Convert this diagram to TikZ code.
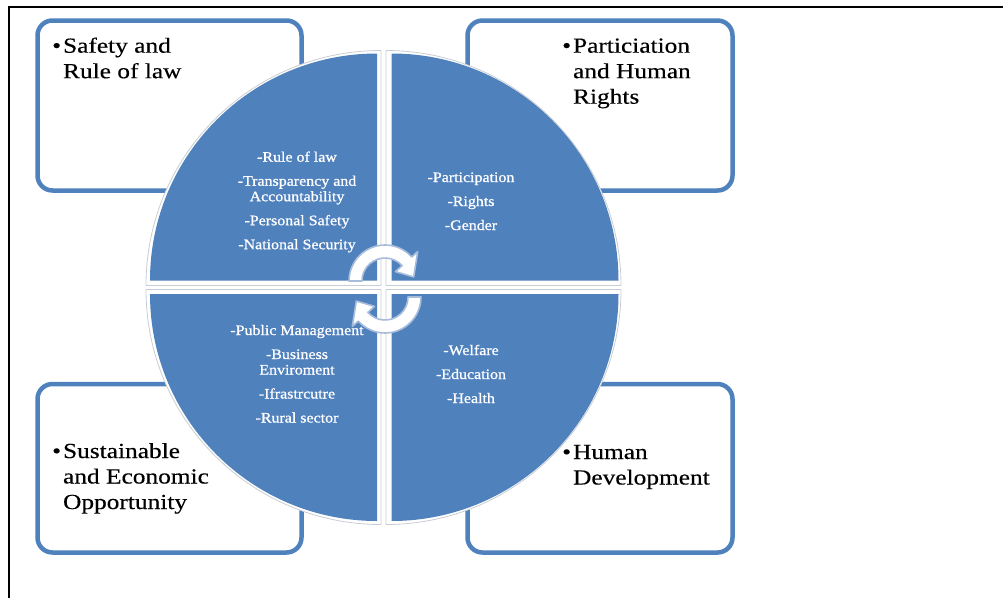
\documentclass[tikz,border=0pt]{standalone}
\usepackage{fontspec}
\setmainfont{Liberation Serif}[FakeStretch=1.18, FakeBold=0.3]
\newfontfamily\itemfont{Liberation Serif}[FakeStretch=1.1, FakeBold=0.9]
\usetikzlibrary{calc}
\definecolor{qblue}{HTML}{4F81BD}
\definecolor{qedge}{HTML}{C8CDD4}
\definecolor{arrowedge}{HTML}{A8BCDC}
\tikzset{
  frameline/.style={line width=2pt, draw=black},
  panel/.style={draw=qblue, line width=4.5pt, rounded corners=15pt, fill=white,
    inner sep=0pt, rectangle},
  headtext/.style={anchor=base west, inner sep=0pt,
    font=\fontsize{21.5}{25.5}\selectfont, text=black},
  itemtext/.style={anchor=base, inner sep=0pt,
    font=\itemfont\fontsize{14.5}{15.5}\selectfont, text=white},
  quarter/.style={fill=qblue},
  quarterrim/.style={fill=white, draw=qedge, line width=0.8pt},
  cyclearrow/.style={fill=white, draw=arrowedge, line width=1.6pt, line join=round}
}
\newcommand{\headlines}[1]{\begin{tabular}[t]{@{}l@{\hspace{2pt}}l@{}}#1\end{tabular}}
\newcommand{\itemlines}[1]{\begin{tabular}[t]{@{}c@{}}#1\end{tabular}}
\begin{document}
\begin{tikzpicture}[x=1pt, y=-1pt]
  \useasboundingbox (0,0) rectangle (1003,598);

  % page frame (top and left rules)
  \coordinate (fr0) at (9,7);
  \coordinate (frR) at (1003,7);
  \coordinate (frB) at (9,598);
  \draw[frameline] (frR) -- (fr0) -- (frB);

  % four corner panels
  \node[panel, minimum width=264pt, minimum height=170pt] (tlbox) at (169.5,105.5) {};
  \node[panel, minimum width=265pt, minimum height=170pt] (trbox) at (600,105.5) {};
  \node[panel, minimum width=264pt, minimum height=168.5pt] (blbox) at (169.5,468.25) {};
  \node[panel, minimum width=265pt, minimum height=168.5pt] (brbox) at (600,468.25) {};

  % panel headings
  \node[headtext] (tlhead) at (52,52.7) {\headlines{\textbullet & Safety and\\ & Rule of law}};
  \node[headtext] (trhead) at (562,52.7) {\headlines{\textbullet & Particiation\\ & and Human\\ & Rights}};
  \node[headtext] (blhead) at (52,458) {\headlines{\textbullet & Sustainable\\ & and Economic\\ & Opportunity}};
  \node[headtext] (brhead) at (562,459) {\headlines{\textbullet & Human\\ & Development}};

  % quarter discs: light rim first, blue quarter on top
  \path[quarterrim] (381,285.5) -- ++(-235,0) arc[start angle=180, end angle=270, radius=235] -- cycle;
  \path[quarterrim] (386,285.5) -- ++(0,-235) arc[start angle=270, end angle=360, radius=235] -- cycle;
  \path[quarterrim] (386,289.5) -- ++(235,0) arc[start angle=0, end angle=90, radius=235] -- cycle;
  \path[quarterrim] (381,289.5) -- ++(0,235) arc[start angle=90, end angle=180, radius=235] -- cycle;

  \path[quarter] (377,280.5) -- ++(-227,0) arc[start angle=180, end angle=270, radius=227] -- cycle;
  \path[quarter] (391.5,280.5) -- ++(0,-227) arc[start angle=270, end angle=360, radius=227] -- cycle;
  \path[quarter] (391.5,294) -- ++(227,0) arc[start angle=0, end angle=90, radius=227] -- cycle;
  \path[quarter] (377,294) -- ++(0,227) arc[start angle=90, end angle=180, radius=227] -- cycle;

  % quarter texts
  \node[itemtext] (tlitems) at (297,161.7) {\itemlines{-Rule of law\\[8.5pt]-Transparency and\\Accountability\\[8.5pt]-Personal Safety\\[8.5pt]-National Security}};
  \node[itemtext] (tritems) at (471,182) {\itemlines{-Participation\\[8.5pt]-Rights\\[8.5pt]-Gender}};
  \node[itemtext] (blitems) at (297,335) {\itemlines{-Public Management\\[8.5pt]-Business\\Enviroment\\[8.5pt]-Ifrastrcutre\\[8.5pt]-Rural sector}};
  \node[itemtext] (britems) at (471,355) {\itemlines{-Welfare\\[8.5pt]-Education\\[8.5pt]-Health}};

  % central cycle arrows
  \coordinate (up) at (385,281);
  \coordinate (lo) at (385,297);
  \path[cyclearrow] ($(up)+(180:36)$) arc[start angle=180, end angle=318, radius=36]
    -- ($(up)+(318:44)$) -- ($(up)+(352:29)$) -- ($(up)+(318:14)$) -- ($(up)+(318:23)$)
    arc[start angle=318, end angle=180, radius=23] -- cycle;
  \path[cyclearrow] ($(lo)+(0:36)$) arc[start angle=0, end angle=138, radius=36]
    -- ($(lo)+(138:44)$) -- ($(lo)+(172:29)$) -- ($(lo)+(138:14)$) -- ($(lo)+(138:23)$)
    arc[start angle=138, end angle=0, radius=23] -- cycle;
\end{tikzpicture}
\end{document}
